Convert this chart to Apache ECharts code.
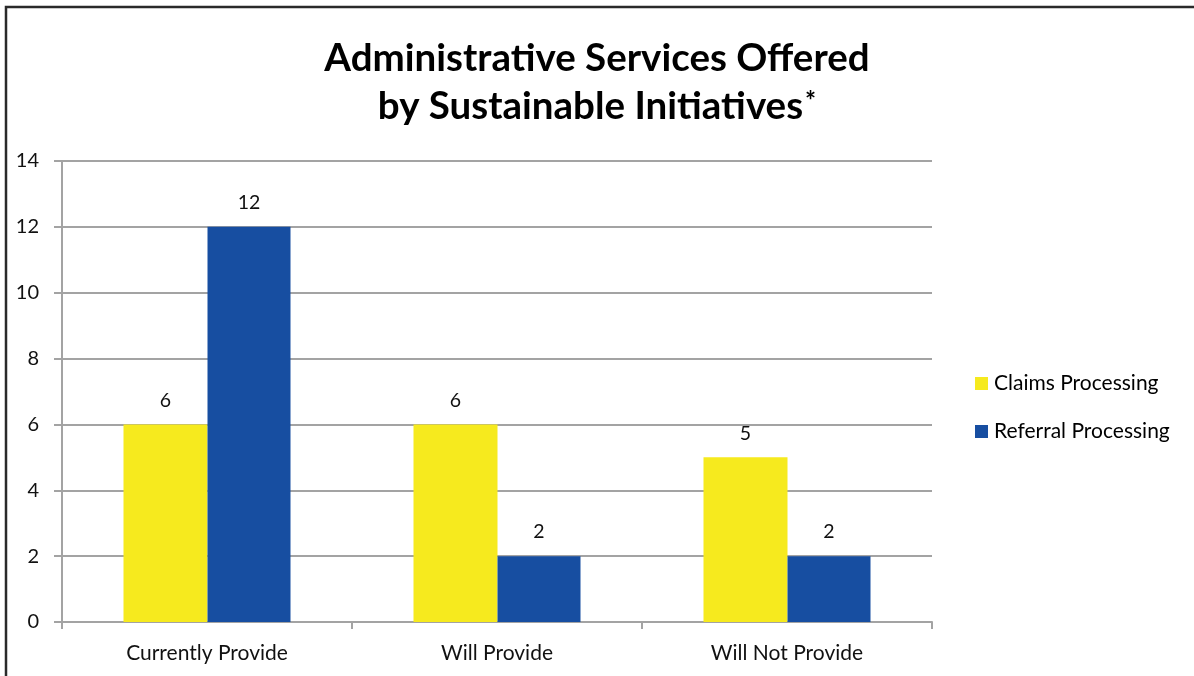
<!DOCTYPE html>
<html>
<head>
<meta charset="utf-8">
<script src="https://cdn.jsdelivr.net/npm/echarts@6/dist/echarts.min.js"></script>
<style>
  html, body { margin: 0; padding: 0; background: #fff; }
  #chart { width: 1194px; height: 676px; }
</style>
</head>
<body>
<div id="chart"></div>
<script>
const categories = ['Currently Provide', 'Will Provide', 'Will Not Provide'];
const claimsProcessing = [6, 6, 5];
const referralProcessing = [12, 2, 2];
const seriesNames = ['Claims Processing', 'Referral Processing'];

const FONT = 'Lato, "Open Sans", sans-serif';
const gridColor = '#a3a3a3';

const myChart = echarts.init(document.getElementById('chart'));

const labelStyle = {
    show: true,
    position: 'top',
    distance: 14,
    color: '#111',
    fontSize: 19.5,
    fontFamily: FONT,
};

const option = {
    animation: false,
    backgroundColor: '#fff',
    title: {
        text: '{t|Administrative Services Offered}\n{t|by Sustainable Initiatives}{s|*}',
        left: 'center',
        top: 30,
        textStyle: {
            rich: {
                t: { fontSize: 38.5, fontWeight: 'bold', color: '#000', fontFamily: FONT, lineHeight: 48 },
                s: { fontSize: 26, fontWeight: 'bold', color: '#000', fontFamily: FONT, lineHeight: 48, padding: [0, 0, 10, 2] },
            },
        },
    },
    legend: {
        orient: 'vertical',
        left: 975,
        top: 373,
        padding: 0,
        itemWidth: 13,
        itemHeight: 13,
        itemGap: 27,
        icon: 'rect',
        textStyle: { fontSize: 21, color: '#000', fontFamily: FONT, padding: [0, 0, 0, 1] },
        data: seriesNames,
    },
    grid: {
        left: 62,
        right: 262,
        top: 161,
        bottom: 54,
        containLabel: false,
    },
    xAxis: {
        type: 'category',
        data: categories,
        axisLine: { lineStyle: { color: gridColor, width: 2 } },
        axisTick: { show: true, length: 7, lineStyle: { color: gridColor, width: 2 } },
        axisLabel: { color: '#111', fontSize: 21, fontFamily: FONT, margin: 21 },
    },
    yAxis: {
        type: 'value',
        min: 0,
        max: 14,
        interval: 2,
        axisLine: { show: true, lineStyle: { color: gridColor, width: 2 } },
        axisTick: { show: true, length: 8, lineStyle: { color: gridColor, width: 2 } },
        axisLabel: { color: '#111', fontSize: 20, fontFamily: FONT, margin: 23 },
        splitLine: { lineStyle: { color: gridColor, width: 2 } },
    },
    series: [
        {
            name: seriesNames[0],
            type: 'bar',
            data: claimsProcessing,
            barWidth: 84,
            barGap: '0%',
            itemStyle: { color: '#f6ea1e' },
            label: labelStyle,
        },
        {
            name: seriesNames[1],
            type: 'bar',
            data: referralProcessing,
            barWidth: 83,
            itemStyle: { color: '#174ea1' },
            label: labelStyle,
        },
    ],
    graphic: [
        {
            type: 'polyline',
            shape: { points: [[6, 680], [6, 7], [1200, 7]] },
            style: { stroke: '#2a2a2a', lineWidth: 2.5, fill: null },
            z: 100,
        },
    ],
};

option && myChart.setOption(option);
</script>
</body>
</html>
